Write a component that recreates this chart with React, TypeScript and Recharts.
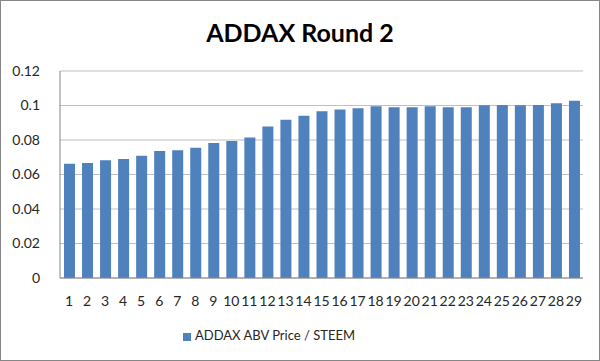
import { BarChart, Bar, XAxis, YAxis, CartesianGrid, Legend } from "recharts";

const rounds = [
  1, 2, 3, 4, 5, 6, 7, 8, 9, 10, 11, 12, 13, 14, 15, 16, 17, 18, 19, 20, 21, 22, 23, 24, 25, 26, 27, 28, 29,
];
const prices = [
  0.0663, 0.0666, 0.0682, 0.069, 0.0709, 0.0736, 0.0741, 0.0755, 0.0782, 0.0794, 0.0815, 0.0878, 0.0917,
  0.094, 0.0967, 0.0977, 0.0984, 0.0996, 0.099, 0.099, 0.0996, 0.099, 0.099, 0.1002, 0.1003, 0.1002,
  0.1003, 0.1013, 0.1027,
];
const yTicks = [0, 0.02, 0.04, 0.06, 0.08, 0.1, 0.12];

const data = rounds.map((r, i) => ({ round: String(r), price: prices[i] }));

const font = "Lato, 'Open Sans', sans-serif";

export default function App() {
  return (
    <div
      style={{
        position: "absolute",
        left: 0,
        top: 0,
        width: 600,
        height: 361,
        boxSizing: "border-box",
        border: "1px solid #868686",
        background: "#fff",
        fontFamily: font,
      }}
    >
      <div
        style={{
          position: "absolute",
          top: 15,
          left: 0,
          width: 598,
          textAlign: "center",
          fontSize: 25,
          fontWeight: 700,
          color: "#000",
          lineHeight: "32px",
        }}
      >
        ADDAX Round 2
      </div>
      <BarChart
        width={598}
        height={359}
        data={data}
        margin={{ top: 70, right: 16, bottom: 2, left: 0 }}
        barSize={11}
      >
        <CartesianGrid vertical={false} stroke="#bfbfbf" />
        <XAxis
          dataKey="round"
          interval={0}
          tickLine={false}
          tickMargin={12}
          height={30}
          stroke="#868686"
          tick={{ fontSize: 14, fill: "#262626", fontFamily: font }}
        />
        <YAxis
          domain={[0, 0.12]}
          ticks={yTicks}
          width={59}
          tickLine={false}
          tickMargin={14}
          stroke="#868686"
          tick={{ fontSize: 14, fill: "#262626", fontFamily: font }}
        />
        <Legend
          verticalAlign="bottom"
          height={36}
          iconType="square"
          iconSize={8}
          wrapperStyle={{ fontSize: 13, fontFamily: font, color: "#262626", paddingTop: 14, bottom: -3, left: -18 }}
          formatter={(v) => <span style={{ color: "#262626" }}>{v}</span>}
        />
        <Bar dataKey="price" name="ADDAX ABV Price / STEEM" fill="#4f81bd" isAnimationActive={false} />
      </BarChart>
    </div>
  );
}
